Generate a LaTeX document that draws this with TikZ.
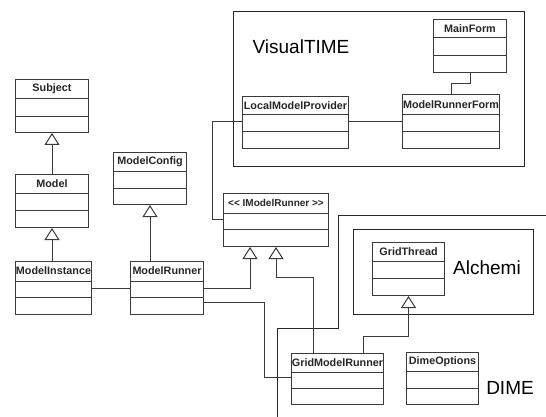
\documentclass[tikz,border=0pt]{standalone}
\usepackage{fontspec}
\setmainfont{Liberation Sans}
\usetikzlibrary{calc,arrows.meta}
\definecolor{lnc}{HTML}{3A3A3A}
\tikzset{
  cls/.style={draw=lnc, line width=1pt, fill=white, rectangle, inner sep=0pt},
  ttl/.style={font=\bfseries\fontsize{10.8}{12}\selectfont, text=black!85, inner sep=0pt},
  divl/.style={draw=lnc, line width=1pt},
  cont/.style={draw=black!85, line width=1pt},
  contlabel/.style={font=\fontsize{19}{22}\selectfont, inner sep=0pt},
  gen/.style={draw=lnc, line width=1pt, -{Triangle[length=12pt,width=15pt,fill=white]}},
  assoc/.style={draw=lnc, line width=1pt},
}
% name, x, y, w, h, d1, d2, text
\newcommand{\umlbox}[8]{%
  \node[cls, minimum width=#4pt, minimum height=#5pt, anchor=north west] (#1) at (#2,#3) {};
  \node[ttl] at ($(#1.north)+(0,#6/2)$) {#8};
  \draw[divl] ($(#1.north west)+(0,#6)$) -- ($(#1.north east)+(0,#6)$);
  \draw[divl] ($(#1.north west)+(0,#7)$) -- ($(#1.north east)+(0,#7)$);
}
\begin{document}
\begin{tikzpicture}[x=1pt,y=-1pt]
\useasboundingbox (0,0) rectangle (546,417);
\fill[white] (0,0) rectangle (546,417);

% containers
\draw[cont] (233,12) rectangle (524,166);
\node[contlabel] (vtl) at (301,47) {VisualTIME};
\draw[cont] (546,215) -- (338,215) -- (338,328) -- (277,328) -- (277,417);
\draw[cont] (353,229) rectangle (533,314);
\node[contlabel] (alc) at (487,268) {Alchemi};
\node[contlabel] (dime) at (510,388) {DIME};

% classes
\umlbox{subj}{15}{79}{73}{53}{20}{38}{Subject}
\umlbox{model}{15}{174}{73}{53}{19}{36}{Model}
\umlbox{mi}{15}{261}{76}{53}{20}{36}{ModelInstance}
\umlbox{mc}{113}{152}{73}{52}{19}{36}{ModelConfig}
\umlbox{mr}{130}{261}{73}{53}{20}{36}{ModelRunner}
\umlbox{imr}{223}{193}{105}{53}{20}{36}{\fontsize{10}{12}\selectfont{<}{<} IModelRunner {>}{>}}
\umlbox{lmp}{242}{96}{106}{52}{19}{36}{LocalModelProvider}
\umlbox{mrf}{402}{94}{97}{54}{21}{38}{ModelRunnerForm}
\umlbox{mf}{433}{19}{73}{53}{19}{37}{MainForm}
\umlbox{gt}{372}{242}{72}{53}{19}{36}{GridThread}
\umlbox{gmr}{291}{353}{92}{51}{19}{35}{GridModelRunner}
\umlbox{dopt}{406}{352}{72}{52}{19}{36}{DimeOptions}

% connectors
\draw[gen] (model.north) -- (subj.south);
\draw[gen] (mi.north -| model.south) -- (model.south);
\draw[gen] (mr.north -| mc.south) -- (mc.south);
\draw[assoc] ($(mi.north east)+(0,27)$) -- ($(mr.north west)+(0,27)$);
\draw[gen] ($(mr.north east)+(0,27)$) -| ($(imr.south west)+(27,0)$);
\draw[gen] ($(gmr.north west)+(22,0)$) -- ++(0,-76) -| ($(imr.south west)+(53,0)$);
\draw[assoc] ($(mr.north east)+(0,41)$) -- ++(60,0) |- ($(gmr.north west)+(0,24)$);
\draw[gen] ($(gmr.north west)+(72,0)$) -- ++(0,-17) -| (gt.south);
\draw[assoc] ($(lmp.north east)+(0,26)$) -- ($(mrf.north west)+(0,28)$);
\draw[assoc] ($(mf.south west)+(37,0)$) -- ++(0,11) -| ($(mrf.north west)+(49,0)$);
\draw[assoc] ($(lmp.north west)+(0,26)$) -- ++(-30,0) |- ($(imr.north west)+(0,26)$);
\end{tikzpicture}
\end{document}
